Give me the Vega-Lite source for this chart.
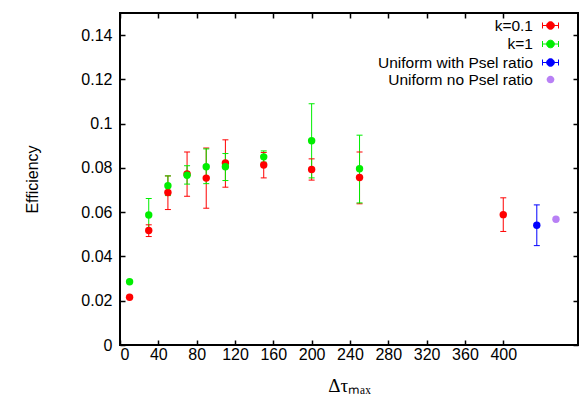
{
  "$schema": "https://vega.github.io/schema/vega-lite/v6.json",
  "width": 458,
  "height": 332,
  "autosize": {"type": "none"},
  "padding": {"left": 120, "top": 13, "right": 2, "bottom": 51},
  "background": "white",
  "config": {
    "font": "Liberation Sans",
    "view": {"stroke": "black", "strokeWidth": 2},
    "axis": {
      "domain": false,
      "grid": false,
      "labelFont": "Liberation Sans",
      "labelFontSize": 16,
      "labelColor": "black",
      "tickColor": "black",
      "tickSize": -5,
      "tickWidth": 1.5,
      "titleFont": "Liberation Sans",
      "titleFontSize": 16,
      "titleFontWeight": "normal",
      "titleColor": "black"
    },
    "legend": {
      "orient": "none",
      "title": null,
      "padding": 0,
      "labelFont": "Liberation Sans",
      "labelFontSize": 15.5,
      "labelColor": "black",
      "labelAlign": "right",
      "labelOffset": -26,
      "labelLimit": 300,
      "symbolSize": 256,
      "symbolStrokeWidth": 1,
      "symbolOpacity": 1,
      "rowPadding": 1.5
    }
  },
  "data": {
    "values": [
      {"series": "k=0.1", "x": 10, "y": 0.0216, "lo": 0.0214, "hi": 0.0218},
      {"series": "k=0.1", "x": 30, "y": 0.0517, "lo": 0.049, "hi": 0.0543},
      {"series": "k=0.1", "x": 50, "y": 0.0689, "lo": 0.0612, "hi": 0.0764},
      {"series": "k=0.1", "x": 70, "y": 0.0773, "lo": 0.0672, "hi": 0.0872},
      {"series": "k=0.1", "x": 90, "y": 0.0754, "lo": 0.0618, "hi": 0.089},
      {"series": "k=0.1", "x": 110, "y": 0.0822, "lo": 0.0713, "hi": 0.0927},
      {"series": "k=0.1", "x": 150, "y": 0.0813, "lo": 0.0755, "hi": 0.087},
      {"series": "k=0.1", "x": 200, "y": 0.0793, "lo": 0.0745, "hi": 0.0841},
      {"series": "k=0.1", "x": 250, "y": 0.0757, "lo": 0.0638, "hi": 0.0872},
      {"series": "k=0.1", "x": 400, "y": 0.0589, "lo": 0.0513, "hi": 0.0665},
      {"series": "k=1", "x": 10, "y": 0.0286, "lo": 0.0284, "hi": 0.0288},
      {"series": "k=1", "x": 30, "y": 0.0587, "lo": 0.0512, "hi": 0.0662},
      {"series": "k=1", "x": 50, "y": 0.072, "lo": 0.0675, "hi": 0.0764},
      {"series": "k=1", "x": 70, "y": 0.0767, "lo": 0.0727, "hi": 0.081},
      {"series": "k=1", "x": 90, "y": 0.0805, "lo": 0.0729, "hi": 0.0886},
      {"series": "k=1", "x": 110, "y": 0.0805, "lo": 0.0743, "hi": 0.0865},
      {"series": "k=1", "x": 150, "y": 0.085, "lo": 0.0826, "hi": 0.0877},
      {"series": "k=1", "x": 200, "y": 0.0923, "lo": 0.0755, "hi": 0.109},
      {"series": "k=1", "x": 250, "y": 0.0796, "lo": 0.0642, "hi": 0.0948},
      {"series": "Uniform with Psel ratio", "x": 435, "y": 0.0541, "lo": 0.0449, "hi": 0.0633},
      {"series": "Uniform no Psel ratio", "x": 455, "y": 0.0568, "lo": null, "hi": null}
    ]
  },
  "layer": [
    {
      "mark": {"type": "rule", "strokeWidth": 1, "opacity": 1},
      "encoding": {
        "x": {
          "field": "x", "type": "quantitative",
          "scale": {"domain": [0, 478], "nice": false, "zero": false},
          "axis": {"orient": "bottom", "values": [0, 40, 80, 120, 160, 200, 240, 280, 320, 360, 400], "labelPadding": 6, "title": "Δτₘₐₓ", "titleFont": "Liberation Serif", "titleFontSize": 19, "titlePadding": 14}
        },
        "y": {
          "field": "lo", "type": "quantitative",
          "scale": {"domain": [0, 0.15], "nice": false},
          "axis": {"orient": "left", "values": [0, 0.02, 0.04, 0.06, 0.08, 0.1, 0.12, 0.14], "format": "~g", "labelPadding": 13, "title": "Efficiency", "titlePadding": 40}
        },
        "y2": {"field": "hi"},
        "color": {
          "field": "series", "type": "nominal",
          "scale": {
            "domain": ["k=0.1", "k=1", "Uniform with Psel ratio"],
            "range": ["#ff0000", "#00ee00", "#0000ff"]
          },
          "legend": {
            "legendX": 422,
            "legendY": 4,
            "symbolType": "M-1,-0.375V0.375M-1,0H1M1,-0.375V0.375M-0.48,0A0.48,0.48,0,1,0,0.48,0A0.48,0.48,0,1,0,-0.48,0Z"
          }
        }
      }
    },
    {
      "mark": {"type": "tick", "orient": "horizontal", "size": 6, "thickness": 1, "opacity": 1},
      "encoding": {
        "x": {
          "field": "x", "type": "quantitative",
          "axis": {"orient": "top", "values": [0, 40, 80, 120, 160, 200, 240, 280, 320, 360, 400], "labels": false, "title": null}
        },
        "y": {
          "field": "lo", "type": "quantitative",
          "axis": {"orient": "right", "values": [0, 0.02, 0.04, 0.06, 0.08, 0.1, 0.12, 0.14], "labels": false, "title": null}
        },
        "color": {"field": "series", "type": "nominal"}
      }
    },
    {
      "mark": {"type": "tick", "orient": "horizontal", "size": 6, "thickness": 1, "opacity": 1},
      "encoding": {
        "x": {"field": "x", "type": "quantitative", "axis": null},
        "y": {"field": "hi", "type": "quantitative", "axis": null},
        "color": {"field": "series", "type": "nominal"}
      }
    },
    {
      "transform": [{"filter": "datum.series !== 'Uniform no Psel ratio'"}],
      "mark": {"type": "point", "filled": true, "size": 55, "opacity": 1},
      "encoding": {
        "x": {"field": "x", "type": "quantitative", "axis": null},
        "y": {"field": "y", "type": "quantitative", "axis": null},
        "color": {"field": "series", "type": "nominal"}
      }
    },
    {
      "transform": [{"filter": "datum.series === 'Uniform no Psel ratio'"}],
      "mark": {"type": "point", "filled": true, "size": 55, "opacity": 1},
      "encoding": {
        "x": {"field": "x", "type": "quantitative", "axis": null},
        "y": {"field": "y", "type": "quantitative", "axis": null},
        "fill": {
          "field": "series", "type": "nominal",
          "scale": {"domain": ["Uniform no Psel ratio"], "range": ["#b880f5"]},
          "legend": {
            "legendX": 422,
            "legendY": 58,
            "symbolType": "M-0.48,0A0.48,0.48,0,1,0,0.48,0A0.48,0.48,0,1,0,-0.48,0Z"
          }
        }
      }
    }
  ],
  "resolve": {"axis": {"x": "independent", "y": "independent"}}
}
